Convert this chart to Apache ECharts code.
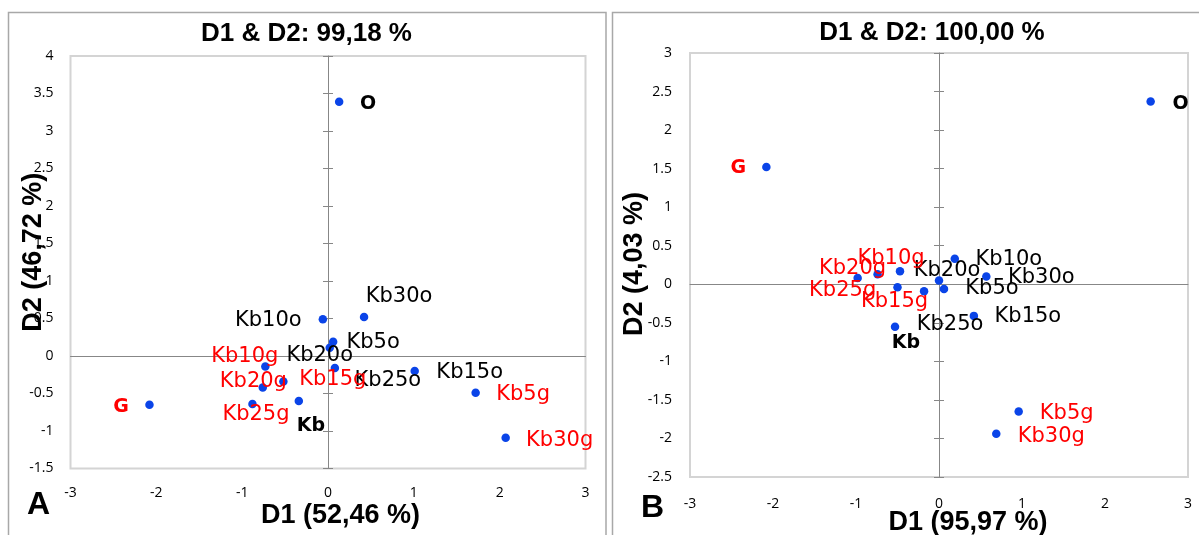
<!DOCTYPE html>
<html>
<head>
<meta charset="utf-8">
<script src="https://cdn.jsdelivr.net/npm/echarts@6/dist/echarts.min.js"></script>
<style>
html,body{margin:0;padding:0;background:#fff;}
#chart{width:1199px;height:535px;}
</style>
</head>
<body>
<div id="chart"></div>
<script>
// ---------- data ----------
const pointNames = ['O','G','Kb','Kb5o','Kb10o','Kb15o','Kb20o','Kb25o','Kb30o','Kb5g','Kb10g','Kb15g','Kb20g','Kb25g','Kb30g'];

// Panel A
const d1A = [0.13, -2.08, -0.34, 0.06, -0.06, 1.01, 0.02, 0.08, 0.42, 1.72, -0.73, -0.76, -0.52, -0.88, 2.07];
const d2A = [3.39, -0.65, -0.60, 0.19, 0.49, -0.20, 0.11, -0.16, 0.52, -0.49, -0.14, -0.42, -0.34, -0.64, -1.09];

// Panel B
const d1B = [2.55, -2.08, -0.53, 0.06, 0.19, 0.42, 0.00, -0.18, 0.57, 0.96, -0.47, -0.50, -0.74, -0.98, 0.69];
const d2B = [2.37, 1.52, -0.55, -0.06, 0.33, -0.41, 0.05, -0.09, 0.10, -1.65, 0.17, -0.04, 0.13, 0.08, -1.94];

const titleA = 'D1 & D2: 99,18 %';
const titleB = 'D1 & D2: 100,00 %';
const xNameA = 'D1 (52,46 %)';
const yNameA = 'D2 (46,72 %)';
const xNameB = 'D1 (95,97 %)';
const yNameB = 'D2 (4,03 %)';
const panelLetters = ['A', 'B'];

// axis ranges / tick steps
const xRange = [-3, 3];
const xStep = 1;
const yRangeA = [-1.5, 4];
const yRangeB = [-2.5, 3];
const yStep = 0.5;

// ---------- styles (label placement relative to its point, in px) ----------
const labelOffsetA = {
  O:[29,2], G:[-28.5,2], Kb:[12,25], Kb5o:[40,1], Kb10o:[-54.5,1.5], Kb15o:[55,1.6],
  Kb20o:[-10,8], Kb25o:[53,13], Kb30o:[35,-20.6], Kb5g:[47.5,2], Kb10g:[-20.5,-10],
  Kb15g:[70,-8], Kb20g:[-30,0], Kb25g:[3.5,11], Kb30g:[54,2.7]
};
const labelOffsetB = {
  O:[30,2], G:[-28,1], Kb:[11,16], Kb5o:[48,0], Kb10o:[54,1], Kb15o:[54,1],
  Kb20o:[8,-10], Kb25o:[26,33], Kb30o:[55,1.4], Kb5g:[48,2], Kb10g:[-9,-13],
  Kb15g:[-3,14], Kb20g:[-25,-6], Kb25g:[-15,12], Kb30g:[55,2.7]
};
const boldNames = ['O','G','Kb'];
const isRed = n => n === 'G' || /g$/.test(n);

const POINT_COLOR = '#0a44e8';
const TICK_FONT = '"Open Sans", sans-serif';
const LABEL_FONT = '"DejaVu Sans", sans-serif';
const TITLE_FONT = '"Liberation Sans", Arial, sans-serif';

function buildData(d1, d2, offsets) {
  return pointNames.map((n, i) => {
    const bold = boldNames.indexOf(n) >= 0;
    return {
      name: n,
      value: [d1[i], d2[i]],
      label: {
        offset: offsets[n],
        color: isRed(n) ? '#ff0000' : '#000000',
        opacity: 1,
        fontWeight: bold ? 'bold' : 'normal',
        fontSize: bold ? 19 : 21,
        fontFamily: LABEL_FONT
      }
    };
  });
}

function labelXAxis(grid, name, nameGap, namePad, margin) {
  return {
    type: 'value', gridIndex: grid, position: 'bottom',
    min: xRange[0], max: xRange[1], interval: xStep,
    axisLine: { show: false, onZero: false },
    axisTick: { show: false },
    splitLine: { show: false },
    axisLabel: { show: true, margin: margin, color: '#000', fontSize: 14, fontFamily: TICK_FONT, showMinLabel: true, showMaxLabel: true },
    name: name, nameLocation: 'middle', nameGap: nameGap, nameMoveOverlap: false,
    nameTextStyle: { fontFamily: TITLE_FONT, fontWeight: 'bold', fontSize: 27, color: '#000', padding: namePad }
  };
}
function zeroXAxis(grid, yIdx) {
  return {
    type: 'value', gridIndex: grid, position: 'bottom',
    min: xRange[0], max: xRange[1], interval: xStep,
    axisLine: { show: true, onZero: true, onZeroAxisIndex: yIdx, lineStyle: { color: '#878787', width: 1 } },
    axisTick: { show: false }, axisLabel: { show: false }, splitLine: { show: false }
  };
}
function labelYAxis(grid, range, name, nameGap, namePad, margin) {
  return {
    type: 'value', gridIndex: grid, position: 'left',
    min: range[0], max: range[1], interval: yStep,
    axisLine: { show: false, onZero: false },
    axisTick: { show: false },
    splitLine: { show: false },
    axisLabel: { show: true, margin: margin, color: '#000', fontSize: 14, fontFamily: TICK_FONT, showMinLabel: true, showMaxLabel: true },
    name: name, nameLocation: 'middle', nameGap: nameGap, nameRotate: 90, nameMoveOverlap: false,
    nameTextStyle: { fontFamily: TITLE_FONT, fontWeight: 'bold', fontSize: 27, color: '#000', padding: namePad }
  };
}
function zeroYAxis(grid, range, xIdx, inside) {
  return {
    type: 'value', gridIndex: grid, position: 'left',
    min: range[0], max: range[1], interval: yStep,
    axisLine: { show: !inside, onZero: true, onZeroAxisIndex: xIdx, lineStyle: { color: '#878787', width: 1 } },
    axisTick: { show: true, inside: inside, length: 5, lineStyle: { color: '#878787', width: 1 } },
    axisLabel: { show: false }, splitLine: { show: false }
  };
}

const seriesBase = {
  type: 'scatter',
  symbol: 'circle', symbolSize: 8.5,
  itemStyle: { color: POINT_COLOR, opacity: 1 },
  label: { show: true, position: 'inside', formatter: '{b}', align: 'center', verticalAlign: 'middle', opacity: 1 },
  emphasis: { disabled: true }
};

const chart = echarts.init(document.getElementById('chart'), null, { renderer: 'canvas' });

const option = {
  animation: false,
  backgroundColor: '#ffffff',
  grid: [
    { left: 70.5, top: 56, width: 515, height: 412.5, show: true, borderColor: '#d4d4d4', borderWidth: 2, backgroundColor: 'transparent', containLabel: false, outerBoundsMode: 'none' },
    { left: 690, top: 53, width: 498, height: 424, show: true, borderColor: '#d4d4d4', borderWidth: 2, backgroundColor: 'transparent', containLabel: false, outerBoundsMode: 'none' }
  ],
  xAxis: [
    labelXAxis(0, xNameA, 34, [0, 0, 0, 25], 18),
    zeroXAxis(0, 0),
    labelXAxis(1, xNameB, 32, [0, 0, 0, 58], 20),
    zeroXAxis(1, 3)
  ],
  yAxis: [
    labelYAxis(0, yRangeA, yNameA, 23, [0, 0, 0, 20], 17),
    zeroYAxis(0, yRangeA, 0, false),
    zeroYAxis(0, yRangeA, 0, true),
    labelYAxis(1, yRangeB, yNameB, 42, [0, 0, 0, 2], 18),
    zeroYAxis(1, yRangeB, 2, false),
    zeroYAxis(1, yRangeB, 2, true)
  ],
  series: [
    Object.assign({}, seriesBase, { xAxisIndex: 0, yAxisIndex: 0, data: buildData(d1A, d2A, labelOffsetA) }),
    Object.assign({}, seriesBase, { xAxisIndex: 2, yAxisIndex: 3, data: buildData(d1B, d2B, labelOffsetB) })
  ],
  graphic: [
    { type: 'rect', silent: true, z: -1, shape: { x: 8.5, y: 12.5, width: 597.5, height: 600 }, style: { fill: 'none', stroke: '#a8a8a8', lineWidth: 1.5 } },
    { type: 'rect', silent: true, z: -1, shape: { x: 612.5, y: 12.5, width: 700, height: 600 }, style: { fill: 'none', stroke: '#a8a8a8', lineWidth: 1.5 } },
    { type: 'text', silent: true, x: 306.5, y: 34, style: { text: titleA, fill: '#000', font: 'bold 26px ' + TITLE_FONT, align: 'center', verticalAlign: 'middle' } },
    { type: 'text', silent: true, x: 932, y: 33, style: { text: titleB, fill: '#000', font: 'bold 26px ' + TITLE_FONT, align: 'center', verticalAlign: 'middle' } },
    { type: 'text', silent: true, x: 38.5, y: 505, style: { text: panelLetters[0], fill: '#000', font: 'bold 32px ' + TITLE_FONT, align: 'center', verticalAlign: 'middle' } },
    { type: 'text', silent: true, x: 652.5, y: 508, style: { text: panelLetters[1], fill: '#000', font: 'bold 32px ' + TITLE_FONT, align: 'center', verticalAlign: 'middle' } }
  ]
};
chart.setOption(option);
</script>
</body>
</html>
